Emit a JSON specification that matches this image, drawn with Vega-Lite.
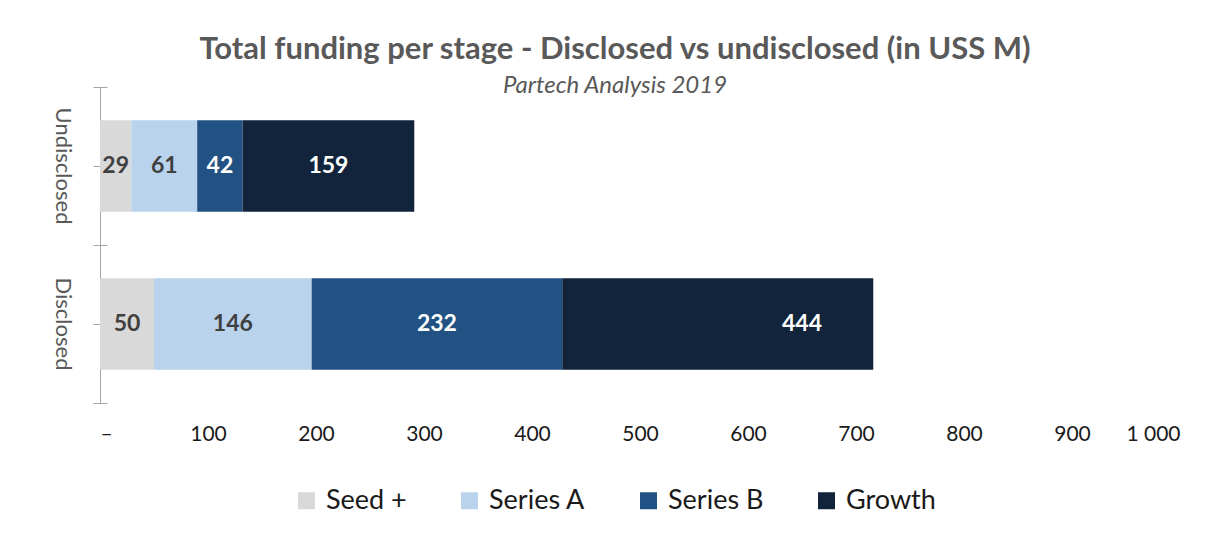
{
  "$schema": "https://vega.github.io/schema/vega-lite/v6.json",
  "width": 1080,
  "height": 316,
  "autosize": "none",
  "padding": {"left": 100, "top": 87, "right": 28, "bottom": 133},
  "background": "white",
  "view": {"stroke": null},
  "title": {
    "text": "Total funding per stage - Disclosed vs undisclosed (in USS M)",
    "subtitle": "Partech Analysis 2019",
    "font": "Lato",
    "fontSize": 31,
    "fontWeight": "bold",
    "color": "#595959",
    "subtitleFont": "Lato",
    "subtitleFontSize": 24,
    "subtitleFontStyle": "italic",
    "subtitleColor": "#595959",
    "anchor": "middle",
    "dx": -25,
    "offset": -12,
    "subtitlePadding": 8
  },
  "data": {
    "values": [
      {"status": "Undisclosed", "stage": "Seed +", "k": 1, "drawn": 29, "amount": 29},
      {"status": "Undisclosed", "stage": "Series A", "k": 2, "drawn": 61, "amount": 61},
      {"status": "Undisclosed", "stage": "Series B", "k": 3, "drawn": 42, "amount": 42},
      {"status": "Undisclosed", "stage": "Growth", "k": 4, "drawn": 159, "amount": 159},
      {"status": "Disclosed", "stage": "Seed +", "k": 1, "drawn": 50, "amount": 50},
      {"status": "Disclosed", "stage": "Series A", "k": 2, "drawn": 146, "amount": 146},
      {"status": "Disclosed", "stage": "Series B", "k": 3, "drawn": 232, "amount": 232},
      {"status": "Disclosed", "stage": "Growth", "k": 4, "drawn": 288, "amount": 444}
    ]
  },
  "resolve": {"axis": {"y": "independent"}},
  "layer": [
    {
      "mark": {"type": "bar", "height": {"band": 0.58}},
      "encoding": {
        "y": {
          "field": "status",
          "type": "nominal",
          "sort": ["Undisclosed", "Disclosed"],
          "scale": {"paddingInner": 0, "paddingOuter": 0},
          "axis": {
            "orient": "left",
            "title": null,
            "labelAngle": 90,
            "labelFont": "Lato",
            "labelFontSize": 22,
            "labelColor": "#595959",
            "domainColor": "#a6a6a6",
            "tickColor": "#a6a6a6",
            "tickSize": 7,
            "tickBand": "center",
            "labelPadding": 21
          }
        },
        "x": {
          "field": "drawn",
          "type": "quantitative",
          "stack": "zero",
          "scale": {"domain": [0, 1000], "nice": false},
          "axis": {
            "title": null,
            "domain": false,
            "ticks": false,
            "grid": false,
            "values": [0, 100, 200, 300, 400, 500, 600, 700, 800, 900, 1000],
            "labelExpr": "datum.value == 0 ? '–' : (datum.value >= 1000 ? '1 000' : datum.label)",
            "labelFont": "Lato",
            "labelFontSize": 21,
            "labelColor": "#1a1a1a",
            "labelPadding": 20
          }
        },
        "color": {
          "field": "stage",
          "type": "nominal",
          "scale": {
            "domain": ["Seed +", "Series A", "Series B", "Growth"],
            "range": ["#d9d9d9", "#b9d3ed", "#215283", "#11243b"]
          },
          "legend": {
            "title": null,
            "orient": "none",
            "direction": "horizontal",
            "legendX": 193,
            "legendY": 400,
            "symbolType": "square",
            "symbolSize": 289,
            "symbolStrokeWidth": 0,
            "labelFont": "Lato",
            "labelFontSize": 27,
            "labelColor": "#1a1a1a",
            "labelOffset": 6,
            "columnPadding": 49
          }
        },
        "order": {"field": "k", "type": "quantitative"}
      }
    },
    {
      "mark": {"type": "text", "font": "Lato", "fontWeight": "bold", "fontSize": 23},
      "encoding": {
        "y": {
          "field": "status",
          "type": "nominal",
          "sort": ["Undisclosed", "Disclosed"],
          "axis": {
            "orient": "left",
            "title": null,
            "labels": false,
            "domain": false,
            "tickColor": "#a6a6a6",
            "tickSize": 14,
            "offset": -7,
            "tickBand": "extent"
          }
        },
        "x": {"field": "amount", "type": "quantitative", "stack": "zero", "bandPosition": 0.5},
        "order": {"field": "k", "type": "quantitative"},
        "text": {"field": "amount", "type": "quantitative"},
        "color": {"condition": {"test": "datum.k > 2", "value": "#ffffff"}, "value": "#404040"}
      }
    }
  ]
}
